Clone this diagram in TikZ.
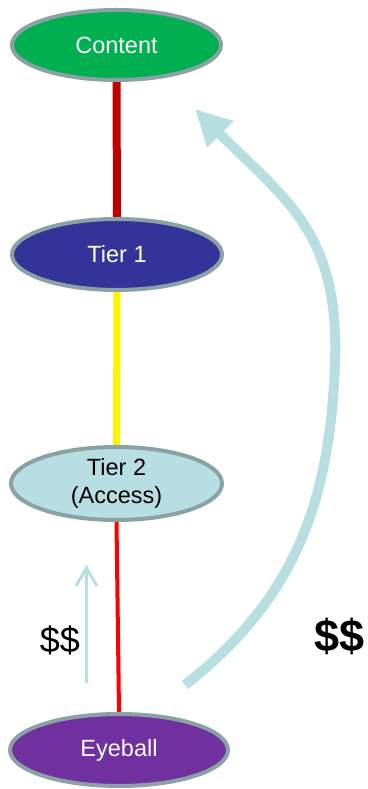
\documentclass[tikz,border=0pt]{standalone}
\usepackage{fontspec}
\setmainfont{Liberation Sans}
\usetikzlibrary{shapes.geometric,arrows.meta,backgrounds}
\definecolor{rimgray}{HTML}{8AA2A3}
\definecolor{contentgreen}{HTML}{00B050}
\definecolor{tierblue}{HTML}{333399}
\definecolor{accesscyan}{HTML}{B7DEE3}
\definecolor{eyepurple}{HTML}{7030A0}
\definecolor{darkred}{HTML}{C00000}
\definecolor{flowcyan}{HTML}{B7DFE2}
\tikzset{
  tiernode/.style={ellipse, draw=rimgray, line width=4pt, inner sep=0pt,
    align=center, font=\fontsize{23.5}{28}\selectfont},
  link/.style={line cap=butt},
}
\begin{document}
\begin{tikzpicture}[x=1pt,y=1pt]
  \useasboundingbox (0,0) rectangle (367,789);

  % the four tiers
  \node[tiernode, fill=contentgreen, text=white, minimum width=209pt, minimum height=70pt]
    (content) at (116.5,744) {Content};
  \node[tiernode, fill=tierblue, text=white, minimum width=210pt, minimum height=71pt]
    (tierone) at (117,534.5) {Tier 1};
  \node[tiernode, fill=accesscyan, text=black, minimum width=211pt, minimum height=73pt]
    (tiertwo) at (116.5,305.5) {Tier 2\\(Access)};
  \node[tiernode, fill=eyepurple, text=white, minimum width=218pt, minimum height=72pt]
    (eyeball) at (119,39) {Eyeball};

  % links between tiers
  \begin{scope}[on background layer]
    \draw[link, darkred, line width=8pt] (content.south) -- (tierone.north);
    \draw[link, yellow, line width=7pt] (tierone.south) -- (tiertwo.north);
    \draw[link, red, line width=4pt] (tiertwo.south) -- (eyeball.north);
  \end{scope}

  % money flowing upward
  \coordinate (smallfrom) at (86.5,106);
  \coordinate (smallto) at (86.5,224);
  \draw[flowcyan, line width=3pt, -{Straight Barb[length=18pt,width=21pt]}]
    (smallfrom) -- (smallto);
  \node[font=\fontsize{36}{40}\selectfont] (smallcash) at (60,149) {\$\$};

  \coordinate (bigfrom) at (185,104);
  \coordinate (bigmid) at (335,426);
  \coordinate (bigto) at (195,680);
  \draw[flowcyan, line width=10pt, -{Triangle[length=36pt,width=35pt]}]
    (bigfrom) to[out=38,in=-92] (bigmid) to[out=88,in=-45,looseness=1.15] (bigto);
  \node[font=\fontsize{45}{50}\selectfont\bfseries] (bigcash) at (340,153) {\$\$};
\end{tikzpicture}
\end{document}
